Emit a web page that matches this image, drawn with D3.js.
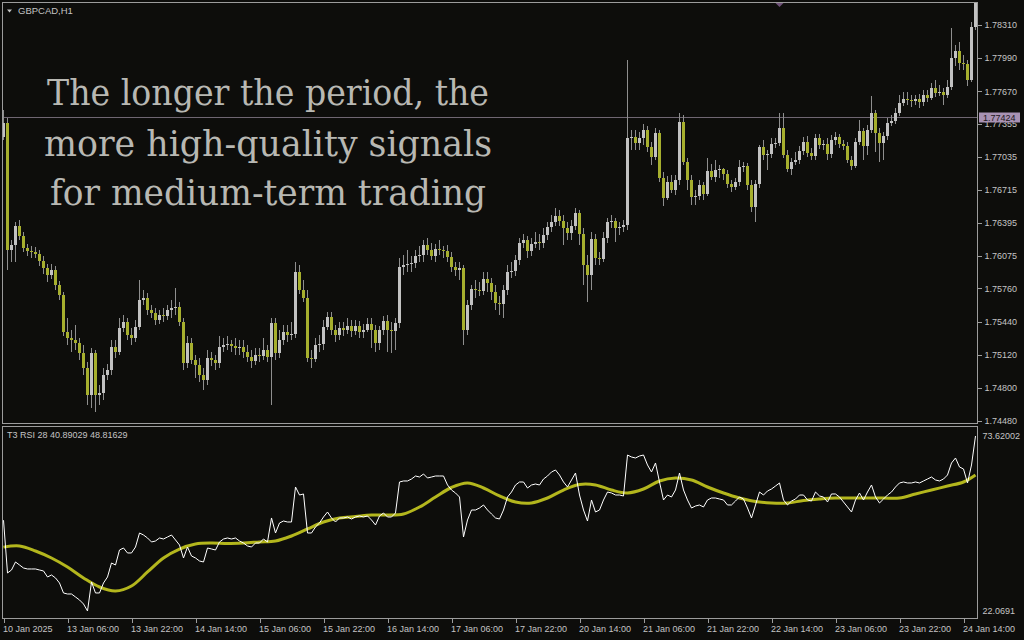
<!DOCTYPE html>
<html><head><meta charset="utf-8">
<script src="https://cdn.jsdelivr.net/npm/d3@7"></script>
<style>html,body{margin:0;padding:0;background:#0d0d0b;overflow:hidden}</style>
</head><body><svg id="c" width="1024" height="640"></svg>
<script>
// ---------------- DATA ----------------
const symbolTitle = "GBPCAD,H1";
const indicatorTitle = "T3 RSI 28 40.89029 48.81629";
const overlayLines = ["The longer the period, the", "more high-quality signals", "for medium-term trading"];

const open = [1.77226,1.77361,1.76132,1.76180,1.76364,1.76268,1.76151,1.76122,1.76113,1.76093,1.76026,1.75958,1.75890,1.75938,1.75793,1.75696,1.75338,1.75280,1.75261,1.75232,1.75135,1.74990,1.74728,1.75135,1.74728,1.74748,1.74922,1.74970,1.75193,1.75145,1.75377,1.75435,1.75309,1.75280,1.75387,1.75648,1.75667,1.75551,1.75522,1.75454,1.75503,1.75493,1.75551,1.75571,1.75580,1.75435,1.75038,1.75232,1.75067,1.75019,1.74922,1.74874,1.75087,1.75067,1.75038,1.75193,1.75212,1.75222,1.75203,1.75183,1.75193,1.75145,1.75096,1.75058,1.75116,1.75106,1.75164,1.75096,1.75425,1.75135,1.75261,1.75338,1.75309,1.75319,1.75919,1.75745,1.75667,1.75087,1.75077,1.75212,1.75222,1.75387,1.75483,1.75358,1.75309,1.75377,1.75358,1.75396,1.75348,1.75396,1.75338,1.75358,1.75416,1.75358,1.75232,1.75358,1.75445,1.75358,1.75348,1.75425,1.75967,1.75987,1.75997,1.76006,1.76074,1.76084,1.76180,1.76132,1.76074,1.76142,1.76132,1.76122,1.76064,1.75967,1.75938,1.75958,1.75358,1.75600,1.75754,1.75745,1.75735,1.75851,1.75813,1.75725,1.75619,1.75609,1.75745,1.75919,1.75929,1.76035,1.76200,1.76229,1.76122,1.76190,1.76209,1.76200,1.76277,1.76355,1.76403,1.76461,1.76413,1.76345,1.76297,1.76364,1.76490,1.76287,1.75987,1.75890,1.76238,1.76055,1.76045,1.76248,1.76403,1.76413,1.76345,1.76355,1.76374,1.77216,1.77226,1.77168,1.77216,1.77294,1.77129,1.77032,1.77265,1.76829,1.76635,1.76790,1.76713,1.76810,1.77371,1.76984,1.76810,1.76645,1.76655,1.76761,1.76674,1.76897,1.76839,1.76906,1.76916,1.76868,1.76771,1.76742,1.76790,1.76935,1.76945,1.76761,1.76548,1.76771,1.77129,1.77052,1.77061,1.77158,1.77168,1.77313,1.77052,1.76916,1.76984,1.77003,1.77090,1.77177,1.77071,1.77042,1.77216,1.77148,1.77158,1.77061,1.77197,1.77226,1.77158,1.77139,1.77003,1.76945,1.77177,1.77284,1.77139,1.77294,1.77458,1.77265,1.77168,1.77236,1.77361,1.77381,1.77458,1.77555,1.77594,1.77584,1.77574,1.77594,1.77565,1.77632,1.77603,1.77700,1.77652,1.77661,1.77632,1.77710,1.77991,1.78058,1.77942,1.77932,1.77778,1.78291];
const close = [1.77361,1.76132,1.76180,1.76364,1.76268,1.76151,1.76122,1.76113,1.76093,1.76026,1.75958,1.75890,1.75938,1.75793,1.75696,1.75338,1.75280,1.75261,1.75232,1.75135,1.74990,1.74728,1.75135,1.74728,1.74748,1.74922,1.74970,1.75193,1.75145,1.75377,1.75435,1.75309,1.75280,1.75387,1.75648,1.75667,1.75551,1.75522,1.75454,1.75503,1.75493,1.75551,1.75571,1.75580,1.75435,1.75038,1.75232,1.75067,1.75019,1.74922,1.74874,1.75087,1.75067,1.75038,1.75193,1.75212,1.75222,1.75203,1.75183,1.75193,1.75145,1.75096,1.75058,1.75116,1.75106,1.75164,1.75096,1.75425,1.75135,1.75261,1.75338,1.75309,1.75319,1.75919,1.75745,1.75667,1.75087,1.75077,1.75212,1.75222,1.75387,1.75483,1.75358,1.75309,1.75377,1.75358,1.75396,1.75348,1.75396,1.75338,1.75358,1.75416,1.75358,1.75232,1.75358,1.75445,1.75358,1.75348,1.75425,1.75967,1.75987,1.75997,1.76006,1.76074,1.76084,1.76180,1.76132,1.76074,1.76142,1.76132,1.76122,1.76064,1.75967,1.75938,1.75958,1.75358,1.75600,1.75754,1.75745,1.75735,1.75851,1.75813,1.75725,1.75619,1.75609,1.75745,1.75919,1.75929,1.76035,1.76200,1.76229,1.76122,1.76190,1.76209,1.76200,1.76277,1.76355,1.76403,1.76461,1.76413,1.76345,1.76297,1.76364,1.76490,1.76287,1.75987,1.75890,1.76238,1.76055,1.76045,1.76248,1.76403,1.76413,1.76345,1.76355,1.76374,1.77216,1.77226,1.77168,1.77216,1.77294,1.77129,1.77032,1.77265,1.76829,1.76635,1.76790,1.76713,1.76810,1.77371,1.76984,1.76810,1.76645,1.76655,1.76761,1.76674,1.76897,1.76839,1.76906,1.76916,1.76868,1.76771,1.76742,1.76790,1.76935,1.76945,1.76761,1.76548,1.76771,1.77129,1.77052,1.77061,1.77158,1.77168,1.77313,1.77052,1.76916,1.76984,1.77003,1.77090,1.77177,1.77071,1.77042,1.77216,1.77148,1.77158,1.77061,1.77197,1.77226,1.77158,1.77139,1.77003,1.76945,1.77177,1.77284,1.77139,1.77294,1.77458,1.77265,1.77168,1.77236,1.77361,1.77381,1.77458,1.77555,1.77594,1.77584,1.77574,1.77594,1.77565,1.77632,1.77603,1.77700,1.77652,1.77661,1.77632,1.77710,1.77991,1.78058,1.77942,1.77932,1.77778,1.78291,1.78552];
const high = [1.77487,1.77410,1.76229,1.76403,1.76422,1.76306,1.76190,1.76171,1.76161,1.76132,1.76074,1.75996,1.75996,1.75977,1.75832,1.75725,1.75474,1.75358,1.75406,1.75280,1.75212,1.75048,1.75183,1.75164,1.74825,1.74990,1.75028,1.75261,1.75261,1.75474,1.75503,1.75474,1.75377,1.75454,1.75842,1.75745,1.75716,1.75600,1.75571,1.75551,1.75571,1.75600,1.75648,1.75764,1.75629,1.75474,1.75300,1.75280,1.75116,1.75087,1.74990,1.75164,1.75145,1.75116,1.75300,1.75280,1.75300,1.75261,1.75280,1.75261,1.75261,1.75212,1.75164,1.75183,1.75183,1.75280,1.75212,1.75474,1.75474,1.75358,1.75406,1.75406,1.75435,1.76016,1.75987,1.75842,1.75745,1.75164,1.75280,1.75309,1.75454,1.75532,1.75532,1.75406,1.75435,1.75435,1.75474,1.75454,1.75454,1.75445,1.75416,1.75474,1.75474,1.75406,1.75396,1.75493,1.75503,1.75435,1.75474,1.76055,1.76084,1.76132,1.76074,1.76132,1.76171,1.76229,1.76248,1.76200,1.76190,1.76229,1.76171,1.76180,1.76113,1.76016,1.76016,1.75987,1.75648,1.75793,1.75842,1.75822,1.75919,1.75919,1.75861,1.75793,1.75687,1.75793,1.75987,1.76016,1.76084,1.76248,1.76287,1.76268,1.76248,1.76306,1.76287,1.76345,1.76403,1.76471,1.76539,1.76519,1.76471,1.76403,1.76422,1.76539,1.76519,1.76345,1.76084,1.76306,1.76287,1.76113,1.76306,1.76442,1.76471,1.76442,1.76403,1.76422,1.77971,1.77294,1.77294,1.77274,1.77352,1.77332,1.77177,1.77313,1.77294,1.76887,1.76848,1.76858,1.76858,1.77458,1.77439,1.77023,1.76858,1.76713,1.76810,1.76790,1.77023,1.76964,1.77003,1.76955,1.76926,1.76906,1.76810,1.76829,1.77003,1.76984,1.76974,1.76810,1.76810,1.77148,1.77197,1.77100,1.77216,1.77216,1.77458,1.77458,1.77100,1.77023,1.77081,1.77139,1.77226,1.77236,1.77119,1.77255,1.77255,1.77197,1.77216,1.77245,1.77274,1.77255,1.77197,1.77177,1.77042,1.77216,1.77390,1.77313,1.77342,1.77623,1.77487,1.77313,1.77274,1.77410,1.77439,1.77507,1.77632,1.77661,1.77661,1.77632,1.77632,1.77642,1.77681,1.77681,1.77749,1.77778,1.77729,1.77700,1.77778,1.78281,1.78116,1.78145,1.78020,1.77971,1.78339,1.78649];
const low = [1.77197,1.75938,1.76016,1.76016,1.76229,1.76113,1.76074,1.76055,1.76055,1.75977,1.75900,1.75822,1.75851,1.75745,1.75648,1.75300,1.75212,1.75145,1.75164,1.75067,1.74922,1.74632,1.74603,1.74564,1.74632,1.74680,1.74874,1.74922,1.75087,1.75116,1.75338,1.75261,1.75212,1.75241,1.75358,1.75600,1.75503,1.75474,1.75406,1.75416,1.75435,1.75454,1.75474,1.75503,1.75396,1.74970,1.74990,1.75028,1.74893,1.74854,1.74777,1.74825,1.75009,1.74970,1.74990,1.75145,1.75164,1.75145,1.75116,1.75116,1.75087,1.75048,1.74990,1.75019,1.75048,1.75067,1.75048,1.74632,1.75067,1.75087,1.75212,1.75241,1.75261,1.75280,1.75706,1.75629,1.75048,1.74990,1.75048,1.75145,1.75164,1.75358,1.75309,1.75241,1.75261,1.75300,1.75319,1.75290,1.75309,1.75280,1.75280,1.75338,1.75183,1.75145,1.75164,1.75309,1.75145,1.75135,1.75164,1.75377,1.75890,1.75919,1.75919,1.75958,1.76016,1.76016,1.76084,1.76035,1.76016,1.76084,1.76055,1.76016,1.75919,1.75880,1.75842,1.75212,1.75309,1.75551,1.75667,1.75687,1.75696,1.75725,1.75648,1.75551,1.75503,1.75474,1.75696,1.75861,1.75880,1.75987,1.76151,1.76055,1.76074,1.76151,1.76132,1.76151,1.76229,1.76306,1.76364,1.76364,1.76180,1.76229,1.76229,1.76326,1.76180,1.75793,1.75629,1.75745,1.75987,1.75987,1.76016,1.76200,1.76345,1.76209,1.76277,1.76306,1.76326,1.77100,1.77100,1.77100,1.77148,1.77081,1.76955,1.77003,1.76790,1.76558,1.76616,1.76684,1.76664,1.76761,1.76955,1.76713,1.76568,1.76568,1.76616,1.76616,1.76655,1.76810,1.76790,1.76829,1.76810,1.76732,1.76693,1.76713,1.76752,1.76887,1.76713,1.76500,1.76403,1.76732,1.77003,1.76906,1.77023,1.77119,1.77139,1.77023,1.76887,1.76858,1.76955,1.76964,1.77052,1.77032,1.77003,1.77003,1.77110,1.77100,1.77003,1.77023,1.77148,1.77119,1.77100,1.76974,1.76906,1.76926,1.77148,1.77003,1.77052,1.77265,1.77081,1.76984,1.77003,1.77197,1.77332,1.77352,1.77429,1.77526,1.77536,1.77516,1.77536,1.77507,1.77526,1.77565,1.77584,1.77613,1.77623,1.77536,1.77603,1.77681,1.77913,1.77874,1.77874,1.77720,1.77758,1.78262];

const rsi = [48.82,33.27,34.15,36.51,35.62,34.74,34.45,34.45,34.45,34.15,33.86,32.09,32.68,31.80,30.32,27.38,27.08,27.08,26.20,25.32,24.14,22.07,30.62,27.38,27.38,30.32,32.09,36.21,35.62,40.04,40.63,39.16,39.16,40.92,45.05,44.46,43.58,42.40,42.69,43.58,43.28,43.87,44.46,42.99,41.51,37.69,40.92,38.27,37.69,36.80,36.51,40.63,40.34,40.04,42.40,43.28,43.58,43.28,43.58,42.69,42.10,41.22,40.92,42.10,42.10,43.28,42.40,49.47,45.05,47.99,48.58,48.29,48.29,58.60,56.24,56.54,45.05,45.05,46.82,47.99,49.76,51.23,49.47,48.29,49.47,49.47,49.76,49.17,49.76,50.06,49.76,50.06,48.88,47.41,50.06,50.94,49.76,49.76,50.94,60.07,60.37,60.37,60.95,61.84,61.54,62.43,61.25,61.54,61.84,61.84,61.84,59.19,57.71,56.83,55.65,43.87,48.88,51.82,51.82,52.41,53.30,51.82,50.64,49.47,49.17,51.82,55.65,57.12,59.19,60.07,60.07,58.30,59.19,59.48,59.19,60.95,61.84,63.02,63.61,62.13,60.07,58.60,60.66,62.72,56.24,51.82,48.58,54.77,51.23,51.82,54.77,57.12,56.83,56.24,56.24,55.95,68.02,67.43,67.14,67.73,68.02,65.08,63.02,65.67,60.07,54.77,56.24,55.65,57.71,62.72,57.71,54.77,52.41,53.00,53.30,52.71,54.77,55.36,55.36,55.06,54.77,53.30,53.30,54.47,55.65,55.06,52.41,49.47,53.30,57.12,56.24,57.42,58.01,58.89,59.78,54.77,53.30,54.47,55.06,56.24,56.24,54.77,54.47,57.12,55.95,55.65,54.18,56.54,56.54,55.65,54.18,52.71,51.23,54.77,56.83,54.77,57.12,59.19,55.65,53.89,55.06,56.24,57.12,58.60,59.78,60.07,59.78,59.78,60.07,59.78,60.37,60.95,61.54,60.66,60.37,60.95,62.13,65.67,67.14,64.49,63.90,59.78,65.08,73.62];

const t3Bars   = [0,4,8,12,16,20,24,28,32,36,40,44,48,52,56,60,64,68,72,76,80,84,88,92,96,100,104,108,112,116,120,124,128,132,136,140,144,148,152,156,160,164,168,172,176,180,184,188,192,196,200,204,208,212,216,220,224,228,232,236,240,243];
const t3Values = [40.89,41.22,39.75,37.69,35.03,31.80,29.14,27.97,29.44,33.56,37.69,40.33,41.81,42.10,41.96,42.10,42.40,42.69,44.17,46.23,48.29,49.47,49.91,50.35,50.35,50.64,52.70,55.65,58.45,59.78,58.30,55.95,54.18,53.89,55.36,57.71,59.33,59.19,57.71,56.83,58.01,60.37,61.25,60.66,58.60,56.83,55.36,54.33,53.89,53.89,54.62,55.06,55.36,55.36,55.36,55.36,55.36,56.54,57.71,58.89,60.07,62.13];

const priceTicks = [1.78310,1.77990,1.77670,1.77355,1.77035,1.76715,1.76395,1.76075,1.75760,1.75440,1.75120,1.74800,1.74480];
const currentPrice = 1.77424;
const rsiTickValues = [73.62002, 22.0691];
const rsiTickLabels = ["73.62002", "22.0691"];
const timeTickBars = [0,16,32,48,64,80,96,112,128,144,160,176,192,208,224,240];
const timeTickLabels = ["10 Jan 2025","13 Jan 06:00","13 Jan 22:00","14 Jan 14:00","15 Jan 06:00","15 Jan 22:00","16 Jan 14:00","17 Jan 06:00","17 Jan 22:00","20 Jan 14:00","21 Jan 06:00","21 Jan 22:00","22 Jan 14:00","23 Jan 06:00","23 Jan 22:00","24 Jan 14:00"];

// ---------------- STYLE / LAYOUT ----------------
const BG = "#0d0d0b", FRAME = "#9c9c9c", TXT = "#c4c4c4";
const BULL = "#c2c2c2", BEAR = "#a6af2e", WICK = "#8e8e8e";
const FONT = "'Liberation Sans', Arial, sans-serif";
const L = 2.5, R = 977.5, mainTop = 2.5, mainBottom = 423.5, subTop = 426.5, subBottom = 618.5;

const svg = d3.select("#c");
svg.append("rect").attr("width",1024).attr("height",640).attr("fill",BG);

const xs = d3.scaleLinear().domain([0, 243]).range([3.5, 975.5]);
const ys = d3.scaleLinear().domain([1.74480, 1.78310]).range([420.7, 25]);
const yr = d3.scaleLinear().domain([22.0691, 73.62002]).range([611, 436]);

const defs = svg.append("defs");
defs.append("clipPath").attr("id","cm").append("rect").attr("x",3).attr("y",3).attr("width",974).attr("height",420);
defs.append("clipPath").attr("id","cs").append("rect").attr("x",3).attr("y",427).attr("width",974).attr("height",191);

// main panel
const gm = svg.append("g").attr("clip-path","url(#cm)");
gm.append("line").attr("x1",3).attr("x2",977)
  .attr("y1",Math.round(ys(currentPrice))+0.5).attr("y2",Math.round(ys(currentPrice))+0.5)
  .attr("stroke","#6f6672").attr("stroke-width",1);

const idx = d3.range(close.length);
gm.append("g").selectAll("line").data(idx).join("line")
  .attr("x1",i=>xs(i)).attr("x2",i=>xs(i))
  .attr("y1",i=>Math.round(ys(high[i]))).attr("y2",i=>Math.round(ys(low[i])))
  .attr("stroke",WICK).attr("stroke-width",1);
gm.append("g").attr("shape-rendering","crispEdges").selectAll("rect").data(idx).join("rect")
  .attr("x",i=>xs(i)-1.5).attr("width",3)
  .attr("y",i=>Math.round(ys(Math.max(open[i],close[i]))))
  .attr("height",i=>Math.max(1, Math.round(ys(Math.min(open[i],close[i]))) - Math.round(ys(Math.max(open[i],close[i])))))
  .attr("fill",i=> close[i] >= open[i] ? BULL : BEAR);

// overlay text
const ov = svg.append("g").attr("font-family","'DejaVu Serif', serif").attr("font-size",35).attr("fill","#b8b8b3").attr("text-anchor","middle");
const ovBase = [105, 156, 205], ovLen = [442, 448, 436];
overlayLines.forEach((t,k)=>{
  ov.append("text").attr("x",268).attr("y",ovBase[k]).attr("textLength",ovLen[k]).attr("lengthAdjust","spacingAndGlyphs").text(t);
});

// sub panel
const gs = svg.append("g").attr("clip-path","url(#cs)");
gs.append("path").datum(t3Bars.map((b,k)=>[b,t3Values[k]]))
  .attr("fill","none").attr("stroke","#b3b61d").attr("stroke-width",3)
  .attr("d", d3.line().x(d=>xs(d[0])).y(d=>yr(d[1])).curve(d3.curveCatmullRom.alpha(0.5)));
gs.append("path").datum(idx)
  .attr("fill","none").attr("stroke","#ffffff").attr("stroke-width",1)
  .attr("d", d3.line().x(i=>xs(i)).y(i=>yr(rsi[i])));

// frames
const fr = svg.append("g").attr("stroke",FRAME).attr("stroke-width",1).attr("fill","none").attr("shape-rendering","crispEdges");
fr.append("rect").attr("x",L).attr("y",mainTop).attr("width",R-L).attr("height",mainBottom-mainTop);
fr.append("rect").attr("x",L).attr("y",subTop).attr("width",R-L).attr("height",subBottom-subTop);

// top marker
svg.append("path").attr("d",`M${xs(194)},3 l-4,0 l4,4 l4,-4 z`).attr("fill","#6e5278");

// axes
function styleAxis(g){
  g.select(".domain").remove();
  g.selectAll(".tick line").attr("stroke",FRAME).attr("shape-rendering","crispEdges");
  g.selectAll(".tick text").attr("fill",TXT).attr("font-family",FONT).attr("font-size",9);
}
svg.append("g").attr("transform",`translate(${R},0)`)
  .call(d3.axisRight(ys).tickValues(priceTicks).tickSize(4).tickPadding(3).tickFormat(d3.format(".5f")))
  .call(styleAxis);
svg.append("g").attr("transform",`translate(${R},0)`)
  .call(d3.axisRight(yr).tickValues(rsiTickValues).tickSize(0).tickPadding(5).tickFormat((d,i)=>rsiTickLabels[i]))
  .call(styleAxis);
const xa = svg.append("g").attr("transform",`translate(0,${subBottom})`)
  .call(d3.axisBottom(xs).tickValues(timeTickBars).tickSize(4).tickPadding(3).tickFormat((d,i)=>timeTickLabels[i]))
  .call(styleAxis);
xa.selectAll(".tick text").attr("text-anchor","start").attr("dx",-1);

// current price label
const cpY = Math.round(ys(currentPrice))+0.5;
svg.append("rect").attr("x",979).attr("y",cpY-5).attr("width",41).attr("height",10).attr("fill","#a892b4");
svg.append("text").attr("x",983).attr("y",cpY+3.5).attr("font-family",FONT).attr("font-size",9).attr("fill","#1d1620").text(d3.format(".5f")(currentPrice));

// titles
svg.append("path").attr("d","M7,9.5 L12,9.5 L9.5,12.5 Z").attr("fill",TXT);
svg.append("text").attr("x",18).attr("y",14).attr("font-family",FONT).attr("font-size",9.5).attr("fill",TXT).text(symbolTitle);
svg.append("text").attr("x",7).attr("y",438).attr("font-family",FONT).attr("font-size",9).attr("fill",TXT).text(indicatorTitle);
</script>
</body></html>
